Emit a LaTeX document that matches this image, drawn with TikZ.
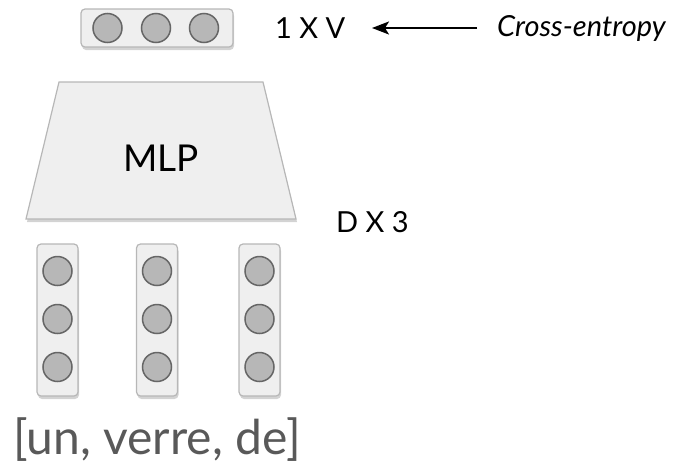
\documentclass[tikz,border=0pt]{standalone}
\usepackage{fontspec}
\setmainfont{Lato}
\usetikzlibrary{shadows,arrows.meta}
\definecolor{boxfill}{HTML}{EFEFEF}
\definecolor{boxline}{HTML}{B7B7B7}
\definecolor{dotfill}{HTML}{B7B7B7}
\definecolor{dotline}{HTML}{666666}
\definecolor{wordgrey}{HTML}{595959}
\tikzset{
  holder/.style={draw=boxline, fill=boxfill, line width=1.2pt, rounded corners=4pt,
    drop shadow={opacity=0.35, shadow xshift=1pt, shadow yshift=-3pt}, inner sep=0pt},
  unit/.style={circle, draw=dotline, fill=dotfill, line width=1.5pt, minimum size=29pt, inner sep=0pt},
  lbl/.style={font=\fontsize{29}{32}\selectfont, inner sep=0pt, text=black},
}
\begin{document}
\begin{tikzpicture}[x=1pt,y=-1pt]
\useasboundingbox (0,0) rectangle (685,472);
% top output vector
\node[holder, minimum width=152pt, minimum height=38pt] (out) at (157,28) {};
\node[unit] (o1) at (107.5,28) {};
\node[unit] (o2) at (156,28) {};
\node[unit] (o3) at (204,28) {};
% MLP trapezoid
\filldraw[draw=boxline, fill=boxfill, line width=1.2pt,
  drop shadow={opacity=0.35, shadow xshift=1pt, shadow yshift=-3pt}]
  (59,82) -- (263,82) -- (296,219) -- (26,219) -- cycle;
\node[font=\fontsize{37}{42}\selectfont, inner sep=0pt] (mlp) at (161,158) {MLP};
% input columns
\foreach \c/\x in {a/57.5,b/157,c/259.5}{
  \node[holder, minimum width=41pt, minimum height=152pt] (col\c) at (\x,320) {};
  \node[unit] (\c1) at (\x,271) {};
  \node[unit] (\c2) at (\x,319) {};
  \node[unit] (\c3) at (\x,367) {};
}
% labels
\node[lbl, anchor=west] (v) at (275,28) {1 X V};
\node[lbl, anchor=west, font=\fontsize{29}{32}\selectfont\itshape] (ce) at (497,28) {Cross-entropy};
\coordinate (ceL) at (477,28);
\coordinate (vR) at (372,28);
\draw[line width=2pt, -{Stealth[length=17pt,width=13pt,inset=4pt]}] (ceL) -- (vR);
\node[lbl, anchor=west] (d3) at (336,222) {D X 3};
\node[font=\fontsize{48}{54}\selectfont, text=wordgrey, inner sep=0pt] (words) at (157,440) {[un, verre, de]};
\end{tikzpicture}
\end{document}
